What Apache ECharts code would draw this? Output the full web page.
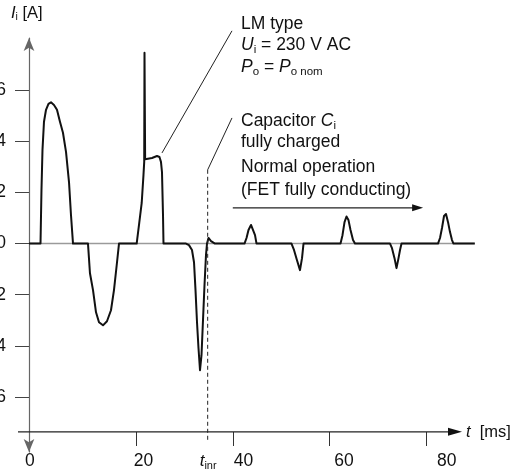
<!DOCTYPE html>
<html><head><meta charset="utf-8">
<script src="https://cdn.jsdelivr.net/npm/echarts@6/dist/echarts.min.js"></script>
<style>html,body{margin:0;padding:0;background:#fff}#c{width:516px;height:472px}</style>
</head><body><div id="c"></div>
<script>
const FONT = 'Liberation Sans, Arial, Helvetica, sans-serif';

// Input current waveform: time t [ms], current I_i [A]
const waveT = [-2.2, 0.19, 0.39, 0.6, 0.91, 1.33, 1.84, 2.36, 2.98, 3.6, 4.22, 4.84, 5.47, 6.09, 6.5, 6.92,
  10.02, 10.43, 11.06, 11.68, 12.3, 13.13, 13.95, 14.78, 15.4, 16.03, 16.44,
  20.1, 20.58, 21.14, 21.51, 21.66, 21.72, 21.85, 22.13, 23.27, 24.31, 24.82, 25.13, 25.34, 25.55, 25.65,
  30.31, 30.93, 31.55, 31.97, 32.28, 32.59, 32.9, 33.21, 33.52, 33.83, 34.14, 34.45, 34.66, 34.97, 35.49, 36.31,
  42.42, 42.84, 43.25, 43.77, 44.18, 44.6, 44.91,
  52.15, 52.67, 53.29, 53.91, 54.33, 54.64,
  62.3, 62.71, 63.13, 63.54, 63.95, 64.37, 64.89, 65.3,
  72.55, 72.96, 73.48, 73.89, 74.31, 74.62, 74.93,
  82.48, 82.9, 83.31, 83.73, 84.14, 84.56, 84.97, 85.38, 85.69, 90.1];
const waveI = [0, 0, 2.1, 3.67, 4.77, 5.24, 5.47, 5.53, 5.43, 5.24, 4.77, 4.34, 3.59, 2.41, 1.12, 0,
  0, -1.16, -1.82, -2.69, -3.08, -3.2, -3.04, -2.61, -1.82, -0.73, 0,
  0, 0.73, 1.59, 2.69, 3.2, 7.47, 3.3, 3.24, 3.35, 3.43, 3.39, 3.2, 2.8, 1.12, 0,
  0, -0.06, -0.25, -0.73, -1.82, -3.08, -4.1, -4.96, -4.37, -3.0, -1.63, -0.45, 0, 0.22, 0.1, 0,
  0, 0.22, 0.53, 0.73, 0.69, 0.33, 0,
  0, -0.25, -0.65, -1.04, -0.57, 0,
  0, 0.33, 0.84, 1.06, 0.92, 0.53, 0.14, 0,
  0, -0.18, -0.57, -0.96, -0.57, -0.25, 0,
  0, 0.22, 0.61, 1.08, 1.16, 0.84, 0.45, 0.14, 0, 0];

const zeroT = [-2.2, 90.1];
const zeroI = [0, 0];

const xTicks = [20, 40, 60, 80];
const xLabelAt = [-2, 21.5, 42.2, 63, 84.3];   // where the tick labels sit (ms)
const yTicks = [-6, -4, -2, 0, 2, 4, 6];

const tInr = 34.8;
// t axis: drawn from tMin to its arrow tip at tAxisEnd, at I = tAxisLevel
const tMin = -4.47, tAxisEnd = 87.45, tAxisLevel = -7.37;
// annotation anchors in data coords [t, I]
const lmLeader = [[25.34, 3.55], [39.83, 8.33]];
const capLeader = [[tInr, 2.89], [39.83, 4.92]];
const inrLine = [[tInr, 2.89], [tInr, -7.69]];
const normalArrow = [[40.0, 1.40], [79.4, 1.40]];

const chart = echarts.init(document.getElementById('c'), null, {renderer: 'canvas'});

const option = {
  animation: false,
  backgroundColor: '#fff',
  grid: {left: 18, right: 40, top: 38, bottom: 20, containLabel: false, outerBoundsMode: 'none'},
  xAxis: {
    type: 'value', min: tMin, max: 90.35, position: 'bottom', offset: -20,
    axisLine: {show: false, onZero: false},
    axisTick: {show: true, customValues: xTicks, length: 14, inside: false, lineStyle: {color: '#333', width: 1}},
    axisLabel: {show: true, customValues: xLabelAt, margin: 20, fontSize: 17.5, fontFamily: FONT, color: '#111',
      formatter: v => String(Math.round(v / 20) * 20)},
    splitLine: {show: false}
  },
  yAxis: {
    type: 'value', min: -8.16, max: 8.05, position: 'left', offset: -11,
    axisLine: {show: true, onZero: false, lineStyle: {color: '#666', width: 1.2}, symbol: ['arrow', 'arrow'], symbolSize: [8, 13]},
    axisTick: {show: true, customValues: yTicks, length: 14, inside: false, lineStyle: {color: '#444', width: 1}},
    axisLabel: {show: true, customValues: yTicks, margin: 23, fontSize: 17.5, fontFamily: FONT, color: '#111',
      formatter: v => String(Math.abs(v))},
    splitLine: {show: false}
  },
  series: [
    {type: 'line', data: zeroT.map((t, i) => [t, zeroI[i]]), symbol: 'none', clip: false, z: 2,
      lineStyle: {color: '#9a9a9a', width: 1.5}, silent: true},
    {type: 'line', data: waveT.map((t, i) => [t, waveI[i]]), symbol: 'none', clip: false, z: 3,
      lineStyle: {color: '#111', width: 2, join: 'round'}, silent: true}
  ]
};
chart.setOption(option);

const P = d => chart.convertToPixel({gridIndex: 0}, d);
const seg = (a, b, style) => {
  const p1 = P(a), p2 = P(b);
  return {type: 'line', shape: {x1: p1[0], y1: p1[1], x2: p2[0], y2: p2[1]}, style: style, z: 10, silent: true};
};
const arrowHead = (tip, len, half) => ({type: 'polygon', z: 10, silent: true,
  shape: {points: [[tip[0], tip[1]], [tip[0] - len, tip[1] - half], [tip[0] - len, tip[1] + half]]},
  style: {fill: '#111'}});
const FS = 17.5;
const txt = (x, y, text, rich, extra) => ({
  type: 'text', x: x, y: y, z: 10, silent: true,
  style: Object.assign({text: text, fontSize: FS, fontFamily: FONT, fill: '#111', verticalAlign: 'middle', align: 'left', rich: rich || {}}, extra || {})
});
const richBase = {
  it: {fontStyle: 'italic', fontSize: FS, fontFamily: FONT, fill: '#111'},
  sub: {fontSize: 11.5, fontFamily: FONT, fill: '#111', padding: [9, 0, 0, 0]}
};
const arrEnd = P(normalArrow[1]);
const axStart = P([tMin, tAxisLevel]), axEnd = P([tAxisEnd, tAxisLevel]);

chart.setOption({
  graphic: [
    {type: 'line', z: 10, silent: true, shape: {x1: axStart[0], y1: axStart[1], x2: axEnd[0] - 10, y2: axEnd[1]}, style: {stroke: '#222', lineWidth: 1.2}},
    arrowHead(axEnd, 14, 4),
    seg(lmLeader[0], lmLeader[1], {stroke: '#222', lineWidth: 1}),
    seg(capLeader[0], capLeader[1], {stroke: '#222', lineWidth: 1}),
    seg(inrLine[0], inrLine[1], {stroke: '#222', lineWidth: 1, lineDash: [4, 3]}),
    seg(normalArrow[0], [normalArrow[1][0] - 1.5, normalArrow[1][1]], {stroke: '#222', lineWidth: 1.2}),
    arrowHead(arrEnd, 11, 3.5),
    txt(241, 24, 'LM type'),
    txt(241, 45, '{it|U}{sub|i} = 230 V AC', richBase),
    txt(241, 67, '{it|P}{sub|o} = {it|P}{sub|o nom}', richBase),
    txt(241, 121, 'Capacitor {it|C}{sub|i}', richBase),
    txt(241, 142, 'fully charged'),
    txt(241, 167, 'Normal operation'),
    txt(241, 190, '(FET fully conducting)'),
    txt(11, 13, '{it|I}{sub|i} [A]', {
      it: {fontStyle: 'italic', fontSize: 16.5, fontFamily: FONT, fill: '#111'},
      sub: {fontSize: 10.5, fontFamily: FONT, fill: '#111', padding: [8, 0, 0, 0]}
    }, {fontSize: 16.5}),
    txt(466, 432, '{it|t}  [ms]', {it: {fontStyle: 'italic', fontSize: 16.5, fontFamily: FONT, fill: '#111'}}, {fontSize: 16.5}),
    txt(P([tInr, 0])[0] - 8, 461, '{it|t}{sub|inr}', {
      it: {fontStyle: 'italic', fontSize: 17, fontFamily: FONT, fill: '#111'},
      sub: {fontSize: 11, fontFamily: FONT, fill: '#111', padding: [9, 0, 0, 0]}
    }, {fontSize: 17})
  ]
});
</script>
</body></html>
